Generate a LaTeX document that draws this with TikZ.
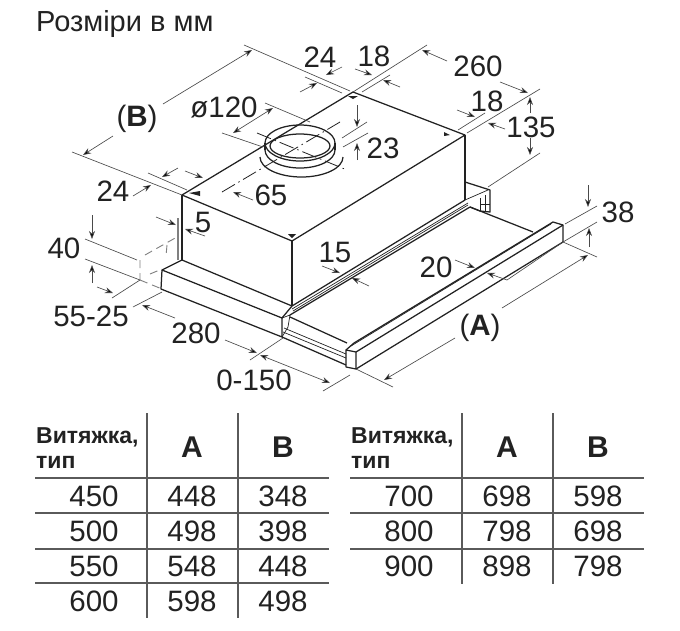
\documentclass[tikz,border=0pt]{standalone}
\usepackage{fontspec}
\setmainfont{Liberation Sans}
\usetikzlibrary{arrows.meta}
\definecolor{ink}{HTML}{222222}
\definecolor{rulecol}{HTML}{5A5A5A}
\definecolor{dimcol}{HTML}{4A4A4A}
\tikzset{
  body/.style={draw=ink,line width=1.25pt,line join=round},
  fine/.style={draw=ink,line width=.7pt},
  ext/.style={draw=dimcol,line width=.65pt},
  dimarr/.style={draw=dimcol,line width=.65pt,-{Stealth[length=8pt,width=6pt,fill=black]}},
  dimboth/.style={draw=dimcol,line width=.65pt,{Stealth[length=8pt,width=6pt,fill=black]}-{Stealth[length=8pt,width=6pt,fill=black]}},
  hidden/.style={draw=gray,line width=.9pt,dash pattern=on 8pt off 5pt},
  axisline/.style={draw=ink,line width=.8pt,dash pattern=on 15pt off 4pt on 1.5pt off 4pt},
  lbl/.style={text=ink,inner sep=0pt,font=\fontsize{29.5}{32}\selectfont},
  cell/.style={text=ink,inner sep=0pt,font=\fontsize{29.5}{32}\selectfont},
  headtxt/.style={text=ink,inner sep=0pt,font=\fontsize{23}{26}\selectfont\bfseries,anchor=west},
  colhead/.style={text=ink,inner sep=0pt,font=\fontsize{30}{32}\selectfont\bfseries},
  gridline/.style={draw=rulecol,line width=1.2pt},
  cornermark/.style={fill=ink,draw=none}
}
\begin{document}
\begin{tikzpicture}[x=1pt,y=-1pt]
\useasboundingbox (0,0) rectangle (680,630);
\fill[white] (0,0) rectangle (680,630);
% title
\node[text=ink,inner sep=0pt,anchor=west,font=\fontsize{29}{32}\selectfont] (title) at (36,24) {Розміри в мм};

% housing
\draw[body] (182,195) -- (353,92) -- (465,135) -- (292,241) -- cycle;
\draw[body] (182,195) -- (182,260);
\draw[body] (292,241) -- (292,306);
\draw[body] (465,135) -- (465,200);
\draw[body] (182,260) -- (292,306);
\draw[body] (292,306) -- (465,200);
% base
\draw[body] (182,260) -- (162,270) -- (282,318) -- (292,306);
\draw[body] (162,270) -- (161,289) -- (282,337) -- (282,318);
\draw[fine] (282,318) -- (290,315) -- (288,327) -- (282,337);
% upper rail
\draw[fine] (292,309) -- (468,203);
\draw[body] (290,315) -- (470,207);
\draw[fine] (293,311) -- (468,205);
% rear bracket
\draw[body] (465,182) -- (490,190) -- (490,212) -- (480,211) -- (470,207);
\draw[fine] (465,200) -- (488,190);
\draw[fine] (480,198) -- (480,211) (485,195) -- (485,211) (480,204) -- (490,204);
\draw[body] (470,207) -- (533,232);
% drawer rails
\draw[body] (290,317) -- (347,343);
\draw[fine] (284,328) -- (346,354);
\draw[fine] (283,332) -- (346,358);
\draw[body] (282,337) -- (346,365);
% front panel
\draw[body] (346,350) -- (356,352) -- (356,369) -- (346,367) -- cycle;
\draw[body] (346,350) -- (354,343) -- (553,222) -- (563,225) -- (563,242) -- (356,369);
\draw[body] (356,352) -- (563,225);
\draw[fine] (351,346) -- (551,224);

% duct
\draw[body] (260,157) arc[start angle=180,end angle=0,x radius=41.5,y radius=20];
\draw[body] (265,150) arc[start angle=180,end angle=0,x radius=35,y radius=18];
\draw[body] (300,143) ellipse[x radius=35,y radius=18];
\draw[body] (300,146) ellipse[x radius=30,y radius=12];
\draw[body] (265,143) -- (265,150) (335,143) -- (335,150);
\draw[axisline] (222,192) -- (340,122);
\draw[axisline] (257,133) -- (347,170);

% corner marks
\fill[cornermark] (348,96) -- (358,96) -- (353,99) -- cycle;
\fill[cornermark] (292,238) -- (288,234) -- (296,234) -- cycle;
\fill[cornermark] (450,135) -- (444,132) -- (444,136) -- cycle;
\fill[cornermark] (189,193) -- (200,191) -- (200,196) -- cycle;

% hidden wall outline
\draw[hidden] (140,260) -- (140,280) (145,255) -- (177,237) (140,280) -- (162,289) (150,274) -- (162,269);
\draw[hidden] (167,245) -- (166,256);
\draw[draw=gray,line width=1.6pt] (178,218) -- (178,260);

% extension lines
\draw[ext] (244,45) -- (350,91);
\draw[ext] (72,152) -- (182,195);
\draw[ext] (305,77) -- (342,93);
\draw[ext] (427,45) -- (353,92);
\draw[ext] (390,75) -- (362,92);
\draw[ext] (540,89) -- (467,133);
\draw[ext] (485,113) -- (458,130);
\draw[ext] (540,153) -- (488,187);
\draw[ext] (597,206) -- (565,224);
\draw[ext] (597,222) -- (563,242);
\draw[ext] (563,242) -- (597,257);
\draw[ext] (356,369) -- (393,387);
\draw[ext] (148,173) -- (187,190);
\draw[ext] (222,133) -- (263,147);
\draw[ext] (265,103) -- (310,122);
\draw[ext] (342,138) -- (367,122);
\draw[ext] (343,147) -- (368,133);
\draw[ext] (85,239) -- (137,260);
\draw[ext] (85,259) -- (140,280);
\draw[ext] (112,298) -- (140,280);
\draw[ext] (133,307) -- (162,292);
\draw[ext] (250,360) -- (283,338);
\draw[ext] (323,391) -- (350,375);
\draw[ext] (507,280) -- (563,242);

% dimension arrows
\draw[dimarr] (113,136) -- (83,155);
\draw[dimarr] (163,104) -- (252,50);
\draw[dimarr] (342,67) -- (326,75);
\draw[dimarr] (300,92) -- (317,83);
\draw[dimarr] (355,69) -- (372,75);
\draw[dimarr] (400,87) -- (383,80);
\draw[dimarr] (447,61) -- (422,50);
\draw[dimarr] (500,82) -- (528,93);
\draw[dimarr] (457,110) -- (475,117);
\draw[dimarr] (505,129) -- (488,123);
\draw[dimarr] (530,113) -- (530,97);
\draw[dimarr] (530,138) -- (530,155);
\draw[dimarr] (588,185) -- (588,207);
\draw[dimarr] (589,247) -- (589,228);
\draw[dimarr] (455,338) -- (384,380);
\draw[dimarr] (502,308) -- (588,255);
\draw[dimarr] (455,260) -- (475,268);
\draw[dimarr] (507,280) -- (487,273);
\draw[dimarr] (322,266) -- (340,273);
\draw[dimarr] (369,286) -- (352,278);
\draw[dimboth] (260,355) -- (330,383);
\draw[dimarr] (225,340) -- (257,353);
\draw[dimarr] (175,318) -- (142,305);
\draw[dimarr] (97,287) -- (113,293);
\draw[dimarr] (92,215) -- (92,239);
\draw[dimarr] (92,283) -- (92,265);
\draw[dimarr] (156,217) -- (176,225);
\draw[dimarr] (205,236) -- (185,229);
\draw[dimarr] (178,168) -- (162,177);
\draw[dimarr] (185,171) -- (203,178);
\draw[dimarr] (133,196) -- (151,185);
\draw[dimarr] (253,200) -- (233,192);
\draw[dimboth] (233,133) -- (273,108);
\draw[dimarr] (357,105) -- (357,127);
\draw[dimarr] (357,160) -- (357,143);

% labels
\node[lbl] (lB) at (137,119) {(\textbf{B})};
\node[lbl] (ldia) at (224,107) {ø120};
\node[lbl] (l24a) at (320,57) {24};
\node[lbl] (l18a) at (374,56) {18};
\node[lbl] (l260) at (478,66) {260};
\node[lbl] (l18b) at (487,101) {18};
\node[lbl] (l135) at (531,127) {135};
\node[lbl] (l23) at (383,148) {23};
\node[lbl] (l24b) at (113,191) {24};
\node[lbl] (l65) at (271,195) {65};
\node[lbl] (l5) at (203,222) {5};
\node[lbl] (l38) at (618,212) {38};
\node[lbl] (l40) at (64,248) {40};
\node[lbl] (l5525) at (91,316) {55-25};
\node[lbl] (l280) at (196,333) {280};
\node[lbl] (l0150) at (254,380) {0-150};
\node[lbl] (l15) at (335,252) {15};
\node[lbl] (l20) at (436,267) {20};
\node[lbl] (lA) at (480,328) {(\textbf{A})};

% left table
\draw[gridline] (147,413) -- (147,618) (238,413) -- (238,618);
\draw[gridline] (35,478) -- (329,478) (35,513) -- (329,513) (35,549) -- (329,549) (35,583) -- (329,583);
\node[headtxt] (h1a) at (36,437) {Витяжка,};
\node[headtxt] (h1b) at (36,462) {тип};
\node[colhead] (h1c) at (192,447) {A};
\node[colhead] (h1d) at (283,447) {B};
\node[cell] (a1) at (94,496) {450};
\node[cell] (a2) at (192,496) {448};
\node[cell] (a3) at (283,496) {348};
\node[cell] (b1) at (94,531) {500};
\node[cell] (b2) at (192,531) {498};
\node[cell] (b3) at (283,531) {398};
\node[cell] (c1) at (94,566) {550};
\node[cell] (c2) at (192,566) {548};
\node[cell] (c3) at (283,566) {448};
\node[cell] (d1) at (94,601) {600};
\node[cell] (d2) at (192,601) {598};
\node[cell] (d3) at (283,601) {498};

% right table
\draw[gridline] (462,413) -- (462,584) (553,413) -- (553,584);
\draw[gridline] (350,478) -- (644,478) (350,513) -- (644,513) (350,549) -- (644,549);
\node[headtxt] (h2a) at (351,437) {Витяжка,};
\node[headtxt] (h2b) at (351,462) {тип};
\node[colhead] (h2c) at (507,447) {A};
\node[colhead] (h2d) at (598,447) {B};
\node[cell] (e1) at (409,496) {700};
\node[cell] (e2) at (507,496) {698};
\node[cell] (e3) at (598,496) {598};
\node[cell] (f1) at (409,531) {800};
\node[cell] (f2) at (507,531) {798};
\node[cell] (f3) at (598,531) {698};
\node[cell] (g1) at (409,566) {900};
\node[cell] (g2) at (507,566) {898};
\node[cell] (g3) at (598,566) {798};
\end{tikzpicture}
\end{document}
